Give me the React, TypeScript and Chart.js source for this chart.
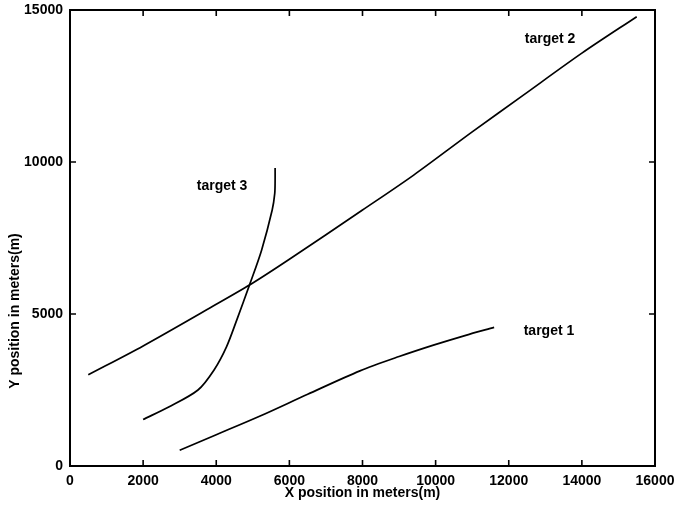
import React, { useEffect, useRef } from "react";
import { Chart, registerables } from "chart.js";

Chart.register(...registerables);

// Track positions (meters)
const target1X = [3000, 4000, 5200, 6500, 7930, 9000, 9940, 10800, 11600];
const target1Y = [520, 1030, 1645, 2360, 3130, 3600, 3975, 4290, 4560];

const target2X = [500, 2000, 4000, 5000, 6000, 8000, 9400, 11000, 12400, 14000, 15500];
const target2Y = [3000, 3950, 5320, 6020, 6800, 8420, 9570, 10990, 12200, 13580, 14780];

const target3X = [2000, 2700, 3500, 3940, 4280, 4560, 4920, 5240, 5530, 5600, 5610, 5610];
const target3Y = [1530, 1940, 2500, 3160, 3920, 4800, 5990, 7100, 8420, 8970, 9400, 9800];

const xTicks = [0, 2000, 4000, 6000, 8000, 10000, 12000, 14000, 16000];
const yTicks = [0, 5000, 10000, 15000];

const targetNames = ["target 1", "target 2", "target 3"];
const nameAnchorX = [13100, 13130, 4160];
const nameAnchorY = [4420, 14040, 9210];

const FONT = "Arial, 'Liberation Sans', Helvetica, sans-serif";
const WEIGHT = "bold";

const toPoints = (xs: number[], ys: number[]) => xs.map((x, i) => ({ x, y: ys[i] }));

// Box frame, inward ticks, y-axis title and track names
const framePlugin = {
  id: "frame",
  afterDraw(chart: any) {
    const { ctx, chartArea } = chart;
    const { left, right, top, bottom } = chartArea;
    const xs = chart.scales.x;
    const ys = chart.scales.y;
    const tick = 6;
    ctx.save();
    ctx.strokeStyle = "#000";
    ctx.lineWidth = 2;
    ctx.strokeRect(left, top, right - left, bottom - top);
    ctx.lineWidth = 1.6;
    ctx.beginPath();
    xTicks.forEach((v) => {
      const px = xs.getPixelForValue(v);
      ctx.moveTo(px, bottom);
      ctx.lineTo(px, bottom - tick);
      ctx.moveTo(px, top);
      ctx.lineTo(px, top + tick);
    });
    yTicks.forEach((v) => {
      const py = ys.getPixelForValue(v);
      ctx.moveTo(left, py);
      ctx.lineTo(left + tick, py);
      ctx.moveTo(right, py);
      ctx.lineTo(right - tick, py);
    });
    ctx.stroke();

    ctx.fillStyle = "#000";
    ctx.font = `${WEIGHT} 14px ${FONT}`;
    ctx.textAlign = "center";
    ctx.textBaseline = "middle";
    targetNames.forEach((name, i) => {
      ctx.fillText(name, xs.getPixelForValue(nameAnchorX[i]), ys.getPixelForValue(nameAnchorY[i]));
    });

    ctx.translate(left - 55, 311);
    ctx.rotate(-Math.PI / 2);
    ctx.fillText("Y position in meters(m)", 0, 0);
    ctx.restore();
  },
};

export default function App() {
  const canvasRef = useRef<HTMLCanvasElement>(null);

  useEffect(() => {
    if (!canvasRef.current) return;
    const line = { borderColor: "#000", borderWidth: 1.7, pointRadius: 0, showLine: true, fill: false, tension: 0.3 };
    const tickFont = { family: FONT, size: 14, weight: WEIGHT };
    const chart = new Chart(canvasRef.current, {
      type: "scatter",
      data: {
        datasets: [
          { label: targetNames[0], data: toPoints(target1X, target1Y), ...line },
          { label: targetNames[1], data: toPoints(target2X, target2Y), ...line },
          { label: targetNames[2], data: toPoints(target3X, target3Y), ...line },
        ],
      },
      options: {
        animation: false,
        responsive: false,
        layout: { padding: { top: 10, right: 21, left: 0, bottom: 0 } },
        plugins: { legend: { display: false }, tooltip: { enabled: false } },
        scales: {
          x: {
            type: "linear",
            min: 0,
            max: 16000,
            afterBuildTicks: (s: any) => {
              s.ticks = xTicks.map((v) => ({ value: v }));
            },
            afterFit: (s: any) => {
              s.height = 46;
              s.paddingLeft = 0;
              s.paddingRight = 0;
            },
            grid: { display: false, drawTicks: false },
            border: { display: false },
            ticks: { color: "#000", padding: 7, maxRotation: 0, font: tickFont, callback: (v: any) => String(v) },
            title: { display: true, text: "X position in meters(m)", color: "#000", font: tickFont, padding: { top: 0, bottom: 10 } },
          },
          y: {
            type: "linear",
            min: 0,
            max: 15000,
            afterBuildTicks: (s: any) => {
              s.ticks = yTicks.map((v) => ({ value: v }));
            },
            afterFit: (s: any) => {
              s.width = 70;
              s.paddingTop = 0;
              s.paddingBottom = 0;
            },
            grid: { display: false, drawTicks: false },
            border: { display: false },
            ticks: { color: "#000", padding: 7, font: tickFont, callback: (v: any) => String(v) },
          },
        },
      },
      plugins: [framePlugin],
    });
    return () => chart.destroy();
  }, []);

  return (
    <div style={{ position: "absolute", left: 0, top: 0, width: 676, height: 512, background: "#fff" }}>
      <canvas ref={canvasRef} width={676} height={512} />
    </div>
  );
}
